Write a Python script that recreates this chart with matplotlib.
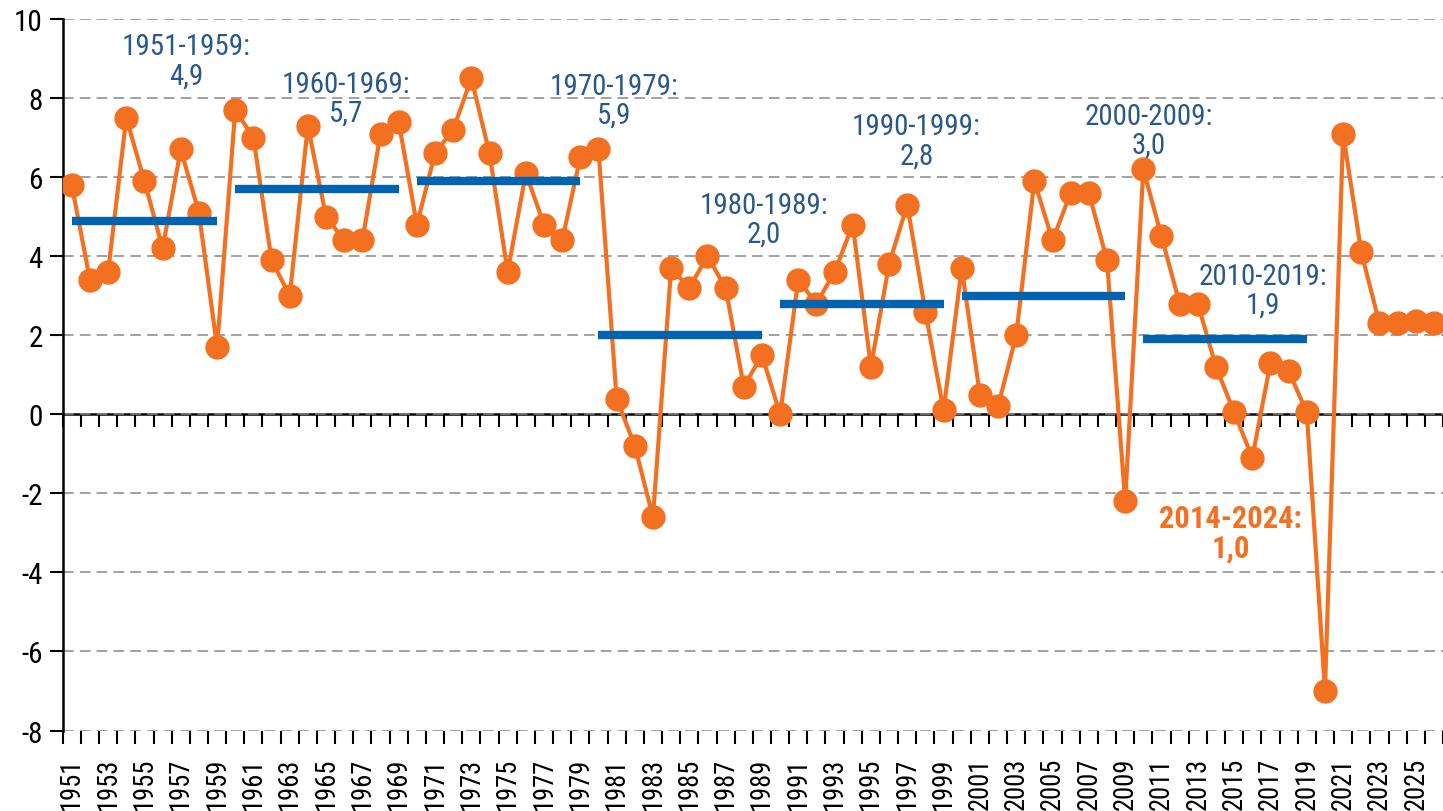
import matplotlib
matplotlib.use("Agg")
import matplotlib.pyplot as plt
from matplotlib import font_manager as fm
import numpy as np

# schmale Schrift suchen (wie im Original), sonst DejaVu Sans
def find_narrow():
    prefs = ['Liberation Sans Narrow', 'Roboto Condensed', 'Open Sans Condensed',
             'Noto Sans Condensed', 'DejaVu Sans Condensed', 'Noto Sans SemiCondensed']
    names = {f.name for f in fm.fontManager.ttflist}
    for p in prefs:
        if p in names:
            return p, 'normal'
    for f in fm.fontManager.ttflist:
        if f.stretch in ('condensed', 'semi-condensed') and not f.name.endswith('Mono'):
            return f.name, f.stretch
    for f in fm.fontManager.ttflist:
        if 'Condensed' in f.name or 'Narrow' in f.name:
            return f.name, 'normal'
    return 'DejaVu Sans', 'normal'

fam, stretch = find_narrow()
plt.rcParams['font.family'] = [fam, 'DejaVu Sans']
plt.rcParams['font.stretch'] = stretch
plt.rcParams['axes.unicode_minus'] = False

# Jahreswerte 1951-2026
years = list(range(1951, 2027))
values = [5.8, 3.4, 3.6, 7.5, 5.9, 4.2, 6.7, 5.1, 1.7,
          7.7, 7.0, 3.9, 3.0, 7.3, 5.0, 4.4, 4.4, 7.1, 7.4,
          4.8, 6.6, 7.2, 8.5, 6.6, 3.6, 6.1, 4.8, 4.4, 6.5,
          6.7, 0.4, -0.8, -2.6, 3.7, 3.2, 4.0, 3.2, 0.7, 1.5,
          0.0, 3.4, 2.8, 3.6, 4.8, 1.2, 3.8, 5.3, 2.6, 0.1,
          3.7, 0.5, 0.2, 2.0, 5.9, 4.4, 5.6, 5.6, 3.9, -2.2,
          6.2, 4.5, 2.8, 2.8, 1.2, 0.05, -1.1, 1.3, 1.1, 0.05,
          -7.0, 7.1, 4.1, 2.3, 2.3, 2.35, 2.3]

# Dekaden-Durchschnitte
decades = [(1951, 1959), (1960, 1969), (1970, 1979), (1980, 1989),
           (1990, 1999), (2000, 2009), (2010, 2019)]
decade_avg = [4.9, 5.7, 5.9, 2.0, 2.8, 3.0, 1.9]
decade_text = ["4,9", "5,7", "5,9", "2,0", "2,8", "3,0", "1,9"]
# Position der Beschriftungen (x = Jahresindex, y = Wert)
label_pos = [(6.3, 8.95), (15.1, 8.0), (29.85, 7.95), (38.1, 4.94),
             (46.5, 6.92), (59.3, 7.19), (65.6, 3.14)]

orange = '#F37021'
blue = '#0063B0'
textblue = '#28598A'

x = np.arange(len(years))

fig = plt.figure(figsize=(14.43, 8.12), dpi=100)
ax = fig.add_axes([0.04345, 0.0991, 0.95655, 0.8762])
renderer = fig.canvas.get_renderer()

# Schriftgroesse so waehlen, dass die Textbreite wie im Original ist
def fit_size(s, width_px, maxsize, **kw):
    t = fig.text(0, 0, s, fontsize=20, **kw)
    w = t.get_window_extent(renderer=renderer).width
    t.remove()
    return min(maxsize, 20 * width_px / w)

tick_fs = fit_size("1951", 52, 21)
ytick_fs = fit_size("-8", 24, 21)
ann_fs = fit_size("1951-1959:", 128, 22)
bold_fs = fit_size("2014-2024:", 143, 23, fontweight='bold')

ax.plot(x, values, color=orange, lw=3, marker='o', markersize=16.5, zorder=3)

for (a, b), avg, txt, (tx, ty) in zip(decades, decade_avg, decade_text, label_pos):
    i0 = years.index(a)
    i1 = years.index(b)
    ax.plot([i0, i1], [avg, avg], color=blue, lw=6, solid_capstyle='butt', zorder=4)
    ax.text(tx, ty, f"{a}-{b}:\n{txt}", ha='center', va='center', fontsize=ann_fs,
            color=textblue, linespacing=1.05, zorder=5)

ax.text(63.8, -3.0, "2014-2024:\n1,0", ha='center', va='center', fontsize=bold_fs,
        fontweight='bold', color=orange, linespacing=1.0, zorder=5)

ax.set_ylim(-8, 10)
ax.set_xlim(-0.5, 75.06)
ax.set_yticks(np.arange(-8, 11, 2))
ax.set_yticklabels([str(v) for v in range(-8, 11, 2)])
ax.yaxis.grid(True, color='#888888', lw=1.1, linestyle=(0, (7, 4)))
ax.set_axisbelow(True)

ax.set_xticks(x[::2])
ax.set_xticklabels([str(y) for y in years[::2]], rotation=90)
ax.set_xticks(np.arange(-0.5, len(years), 1), minor=True)
ax.tick_params(axis='x', which='major', length=0, pad=19, labelsize=tick_fs)
ax.tick_params(axis='x', which='minor', length=9.5, width=1.5, direction='out')
ax.tick_params(axis='y', length=9.5, width=1.5, labelsize=ytick_fs, pad=5)

for s in ['top', 'right', 'bottom']:
    ax.spines[s].set_visible(False)
ax.spines['left'].set_linewidth(1.8)

# Nulllinie mit Teilstrichen
sec = ax.secondary_xaxis(0, transform=ax.transData)
sec.set_xticks(np.arange(-0.5, len(years), 1))
sec.tick_params(axis='x', length=9.5, width=1.5, direction='out', labelbottom=False)
sec.spines['bottom'].set_linewidth(1.8)

fig.savefig('out.png', dpi=100)
